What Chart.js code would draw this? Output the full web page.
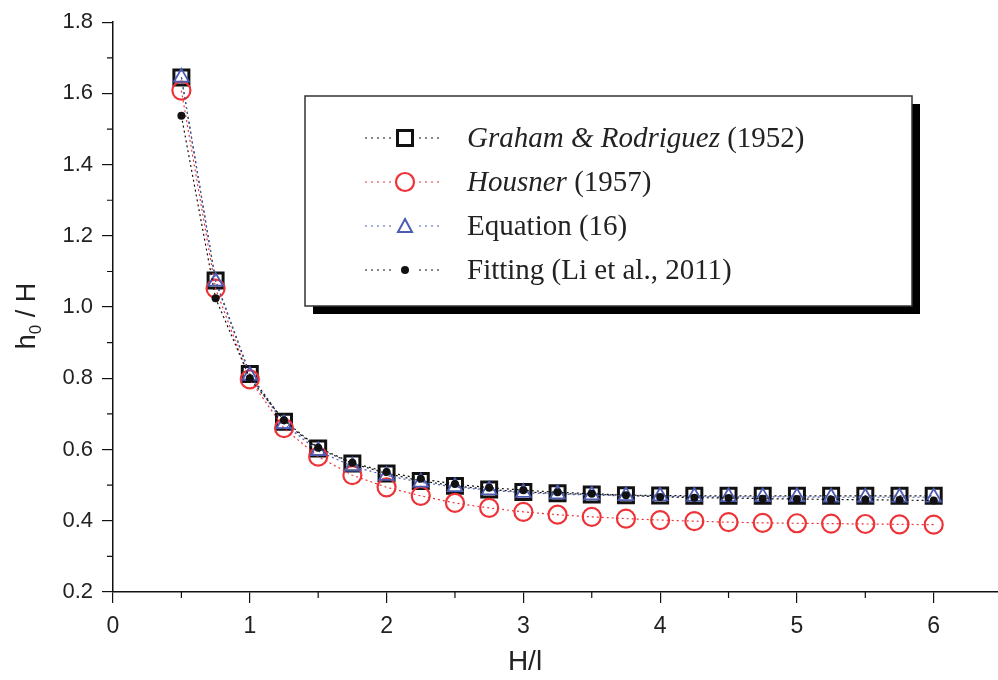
<!DOCTYPE html>
<html>
<head>
<meta charset="utf-8">
<title>h0 / H versus H/l</title>
<script src="https://cdn.jsdelivr.net/npm/chart.js@4"></script>
<style>
  html, body { margin: 0; padding: 0; background: #fff; }
  #wrap { width: 998px; height: 680px; }
</style>
</head>
<body>
<div id="wrap"><canvas id="chart" width="998" height="680"></canvas></div>
<script>
/* ------------------------------------------------------------- */
/* DATA                                                           */
/* ------------------------------------------------------------- */
const xValues = [0.5, 0.75, 1.0, 1.25, 1.5, 1.75, 2.0, 2.25, 2.5, 2.75, 3.0, 3.25,
                 3.5, 3.75, 4.0, 4.25, 4.5, 4.75, 5.0, 5.25, 5.5, 5.75, 6.0];

const grahamRodriguez = [1.645, 1.075, 0.812, 0.678, 0.603, 0.561, 0.533, 0.512, 0.498, 0.488, 0.481, 0.477,
                         0.474, 0.472, 0.471, 0.470, 0.470, 0.470, 0.470, 0.470, 0.470, 0.470, 0.470];
const housner = [1.608, 1.052, 0.797, 0.660, 0.580, 0.528, 0.494, 0.470, 0.450, 0.436, 0.425, 0.417,
                 0.411, 0.406, 0.402, 0.399, 0.396, 0.394, 0.393, 0.392, 0.391, 0.390, 0.389];
const equation16 = [1.645, 1.072, 0.808, 0.672, 0.596, 0.553, 0.527, 0.508, 0.495, 0.486, 0.479, 0.475,
                    0.472, 0.470, 0.469, 0.468, 0.467, 0.467, 0.467, 0.466, 0.466, 0.466, 0.466];
const fittingLi = [1.537, 1.025, 0.800, 0.682, 0.605, 0.563, 0.537, 0.518, 0.503, 0.493, 0.486, 0.480,
                   0.476, 0.472, 0.467, 0.465, 0.464, 0.462, 0.461, 0.460, 0.459, 0.458, 0.457];

const xTicks = [0, 1, 2, 3, 4, 5, 6];
const xMinorTicks = [0.5, 1.5, 2.5, 3.5, 4.5, 5.5];
const yTicks = [0.2, 0.4, 0.6, 0.8, 1.0, 1.2, 1.4, 1.6, 1.8];
const yMinorTicks = [0.3, 0.5, 0.7, 0.9, 1.1, 1.3, 1.5, 1.7];

const seriesNames = ['Graham & Rodriguez (1952)', 'Housner (1957)', 'Equation (16)', 'Fitting (Li et al., 2011)'];

/* ------------------------------------------------------------- */
/* STYLE                                                          */
/* ------------------------------------------------------------- */
const BLACK = '#111111';
const RED = '#ee3338';
const BLUE = '#4c5cb4';
const SANS = "'Liberation Sans', Arial, sans-serif";
const SERIF = "'Liberation Serif', 'Times New Roman', serif";

function toPoints(ys) {
  return xValues.map((x, i) => ({ x: x, y: ys[i] }));
}

/* ------------------------------------------------------------- */
/* PLUGINS                                                        */
/* ------------------------------------------------------------- */

// short minor tick marks on both axes
const minorTicks = {
  id: 'minorTicks',
  afterDraw(chart) {
    const ctx = chart.ctx;
    const xs = chart.scales.x, ys = chart.scales.y;
    ctx.save();
    ctx.strokeStyle = BLACK;
    ctx.lineWidth = 1.2;
    ctx.beginPath();
    xMinorTicks.forEach(v => {
      const px = xs.getPixelForValue(v);
      ctx.moveTo(px, xs.top);
      ctx.lineTo(px, xs.top + 6);
    });
    yMinorTicks.forEach(v => {
      const py = ys.getPixelForValue(v);
      ctx.moveTo(ys.right, py);
      ctx.lineTo(ys.right - 6, py);
    });
    ctx.stroke();
    ctx.restore();
  }
};

// axis titles: x title sits under the middle of the data, y title has a subscript
const axisTitles = {
  id: 'axisTitles',
  afterDraw(chart) {
    const ctx = chart.ctx;
    ctx.save();
    ctx.fillStyle = '#222';
    ctx.textBaseline = 'middle';

    ctx.textAlign = 'center';
    ctx.font = '28px ' + SANS;
    ctx.fillText('H/l', 525, 662);

    ctx.textAlign = 'left';
    ctx.translate(28, 316);
    ctx.rotate(-Math.PI / 2);
    const big = '27px ' + SANS, small = '17px ' + SANS;
    ctx.font = big;
    const wH = ctx.measureText('h').width;
    const wTail = ctx.measureText(' / H').width;
    ctx.font = small;
    const w0 = ctx.measureText('0').width;
    let x = -(wH + w0 + wTail) / 2;
    ctx.font = big;
    ctx.fillText('h', x, 0);
    x += wH;
    ctx.font = small;
    ctx.fillText('0', x, 8);
    x += w0;
    ctx.font = big;
    ctx.fillText(' / H', x, 0);
    ctx.restore();
  }
};

function drawMarker(ctx, kind, x, y) {
  ctx.save();
  if (kind === 0) {
    ctx.strokeStyle = BLACK; ctx.lineWidth = 3;
    ctx.strokeRect(x - 7.5, y - 7.5, 15, 15);
  } else if (kind === 1) {
    ctx.strokeStyle = RED; ctx.lineWidth = 2.2;
    ctx.beginPath(); ctx.arc(x, y, 9, 0, Math.PI * 2); ctx.stroke();
  } else if (kind === 2) {
    ctx.strokeStyle = BLUE; ctx.lineWidth = 2;
    ctx.beginPath();
    ctx.moveTo(x, y - 7); ctx.lineTo(x + 7, y + 6); ctx.lineTo(x - 7, y + 6);
    ctx.closePath(); ctx.stroke();
  } else {
    ctx.fillStyle = BLACK;
    ctx.beginPath(); ctx.arc(x, y, 4, 0, Math.PI * 2); ctx.fill();
  }
  ctx.restore();
}

// boxed legend with drop shadow and italic author names
const boxLegend = {
  id: 'boxLegend',
  afterDraw(chart) {
    const ctx = chart.ctx;
    const L = 305, T = 96, R = 912, B = 306;
    ctx.save();
    ctx.fillStyle = '#000';
    ctx.fillRect(L + 8, T + 8, R - L, B - T);
    ctx.fillStyle = '#fff';
    ctx.fillRect(L, T, R - L, B - T);
    ctx.strokeStyle = '#333';
    ctx.lineWidth = 1.5;
    ctx.strokeRect(L, T, R - L, B - T);

    const colors = [BLACK, RED, BLUE, BLACK];
    const rows = [138, 182, 226, 270];
    const parts = [
      [['Graham & Rodriguez', true], [' (1952)', false]],
      [['Housner', true], [' (1957)', false]],
      [['Equation (16)', false]],
      [['Fitting (Li et al., 2011)', false]]
    ];
    rows.forEach((ry, i) => {
      ctx.strokeStyle = colors[i];
      ctx.lineWidth = 1.2;
      ctx.setLineDash([2, 4]);
      ctx.beginPath();
      ctx.moveTo(365, ry); ctx.lineTo(440, ry);
      ctx.stroke();
      ctx.setLineDash([]);
      ctx.fillStyle = '#fff';
      ctx.fillRect(394, ry - 11, 22, 22);
      drawMarker(ctx, i, 405, ry);

      let x = 467;
      ctx.fillStyle = '#222';
      ctx.textBaseline = 'alphabetic';
      parts[i].forEach(([txt, italic]) => {
        ctx.font = (italic ? 'italic ' : '') + '29px ' + SERIF;
        ctx.fillText(txt, x, ry + 9);
        x += ctx.measureText(txt).width;
      });
    });
    ctx.restore();
  }
};

/* ------------------------------------------------------------- */
/* CHART                                                          */
/* ------------------------------------------------------------- */
const lineBase = {
  showLine: true,
  borderWidth: 1.2,
  borderDash: [2, 3],
  tension: 0,
  backgroundColor: 'rgba(0,0,0,0)'
};

new Chart(document.getElementById('chart').getContext('2d'), {
  type: 'scatter',
  data: {
    datasets: [{
      ...lineBase,
      label: seriesNames[0],
      data: toPoints(grahamRodriguez),
      borderColor: BLACK,
      pointStyle: 'rect',
      pointRadius: 10.6,
      pointBorderWidth: 3,
      pointBorderColor: BLACK,
      pointBackgroundColor: 'rgba(0,0,0,0)',
      order: 4
    }, {
      ...lineBase,
      label: seriesNames[1],
      data: toPoints(housner),
      borderColor: RED,
      pointStyle: 'circle',
      pointRadius: 9,
      pointBorderWidth: 2.2,
      pointBorderColor: RED,
      pointBackgroundColor: 'rgba(0,0,0,0)',
      order: 3
    }, {
      ...lineBase,
      label: seriesNames[2],
      data: toPoints(equation16),
      borderColor: BLUE,
      pointStyle: 'triangle',
      pointRadius: 8.5,
      pointBorderWidth: 1.8,
      pointBorderColor: BLUE,
      pointBackgroundColor: 'rgba(0,0,0,0)',
      order: 2
    }, {
      ...lineBase,
      label: seriesNames[3],
      data: toPoints(fittingLi),
      borderColor: BLACK,
      pointStyle: 'circle',
      pointRadius: 4,
      pointBorderWidth: 0,
      pointBackgroundColor: BLACK,
      order: 1
    }]
  },
  options: {
    responsive: false,
    animation: false,
    layout: { autoPadding: false, padding: { top: 6, right: 0, left: 0, bottom: 0 } },
    plugins: {
      legend: { display: false },
      tooltip: { enabled: false }
    },
    scales: {
      x: {
        type: 'linear',
        min: 0,
        max: 6.47,
        afterFit: s => { s.height = 88; },
        afterBuildTicks: s => { s.ticks = xTicks.map(v => ({ value: v })); },
        grid: { drawOnChartArea: false, drawTicks: true, tickLength: 11, color: BLACK, lineWidth: 1.2 },
        border: { color: BLACK, width: 1.5 },
        ticks: {
          color: '#222',
          padding: 10,
          maxRotation: 0,
          font: { family: SANS, size: 23 },
          callback: v => String(v)
        }
      },
      y: {
        type: 'linear',
        min: 0.2,
        max: 1.8,
        afterFit: s => { s.width = 113; },
        afterBuildTicks: s => { s.ticks = yTicks.map(v => ({ value: v })); },
        grid: { drawOnChartArea: false, drawTicks: true, tickLength: 11, color: BLACK, lineWidth: 1.2 },
        border: { color: BLACK, width: 1.5 },
        ticks: {
          color: '#222',
          padding: 9,
          font: { family: SANS, size: 22 },
          callback: v => Number(v).toFixed(1)
        }
      }
    }
  },
  plugins: [minorTicks, axisTitles, boxLegend]
});
</script>
</body>
</html>
